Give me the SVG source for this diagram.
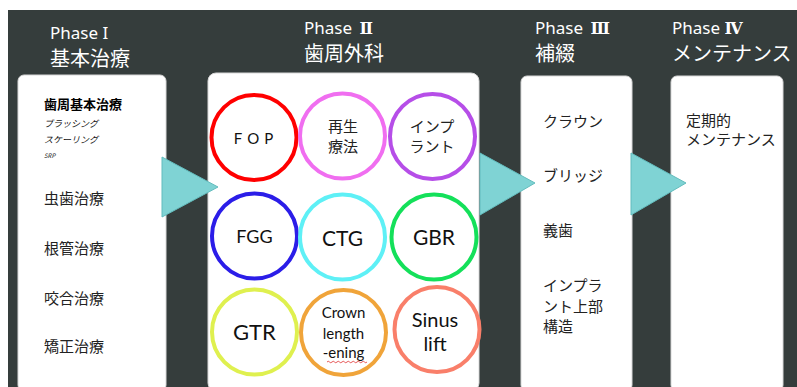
<svg xmlns="http://www.w3.org/2000/svg" width="797" height="387" viewBox="0 0 797 387">
<defs>
<style>
.hd{font-family:"Noto Sans","Noto Sans CJK JP",sans-serif;fill:#ffffff;}
.ph{font-size:17px;}
.rn{font-family:"DejaVu Serif",serif;font-weight:bold;font-size:16px;}
.jp{font-size:20px;}
.panel{fill:#ffffff;stroke:#d8d8d8;stroke-width:1;}
.tri{fill:#7fd3d4;stroke:#63bcbd;stroke-width:1;}
.ring{fill:none;stroke-width:4;}
.t{font-family:"Noto Sans CJK JP",sans-serif;fill:#222222;font-size:15px;}
.lat{font-family:Lato,"Noto Sans",sans-serif;fill:#111111;text-anchor:middle;}
.cj{font-family:"Noto Sans CJK JP",sans-serif;fill:#222222;text-anchor:middle;}
</style>
</defs>
<rect x="0" y="0" width="797" height="387" fill="#ffffff"/>
<rect x="8" y="10" width="789" height="377" fill="#353d3c"/>

<g id="headers">
<text class="hd ph" x="50" y="39">Phase I</text>
<text class="hd jp" x="50" y="66">基本治療</text>
<text class="hd ph" x="304" y="34">Phase <tspan class="rn" dx="3">Ⅱ</tspan></text>
<text class="hd jp" x="304" y="61">歯周外科</text>
<text class="hd ph" x="535" y="34">Phase <tspan class="rn" dx="3">Ⅲ</tspan></text>
<text class="hd jp" x="535" y="61">補綴</text>
<text class="hd ph" x="672" y="34">Phase <tspan class="rn">Ⅳ</tspan></text>
<text class="hd jp" x="672" y="61">メンテナンス</text>
</g>

<g id="phase1">
<rect class="panel" x="18" y="75" width="148" height="316" rx="6"/>
<text class="t" x="44" y="109" style="font-size:13px;font-weight:bold;fill:#000">歯周基本治療</text>
<text class="t" x="44" y="127" style="font-size:9px;font-style:italic;fill:#111">ブラッシング</text>
<text class="t" x="44" y="143" style="font-size:9px;font-style:italic;fill:#111">スケーリング</text>
<text class="t" x="44" y="158" style="font-size:6px;font-style:italic;fill:#111">SRP</text>
<text class="t" x="44" y="204">虫歯治療</text>
<text class="t" x="44" y="254">根管治療</text>
<text class="t" x="44" y="304">咬合治療</text>
<text class="t" x="44" y="352">矯正治療</text>
</g>

<g id="phase2">
<rect class="panel" x="208" y="73" width="271" height="318" rx="8"/>
</g>

<g id="fop">
<circle class="ring" cx="254" cy="137.5" r="42.5" stroke="#ff0000"/>
<text class="lat" x="256" y="144" style="font-size:15px;letter-spacing:5px;">FOP</text>
</g>
<g id="saisei">
<circle class="ring" cx="342.5" cy="136" r="42.5" stroke="#f06ef0"/>
<text class="cj" x="343" y="132" style="font-size:15px;">再生</text>
<text class="cj" x="343" y="152" style="font-size:15px;">療法</text>
</g>
<g id="implant">
<circle class="ring" cx="432.5" cy="136.5" r="42.5" stroke="#b64ee8"/>
<text class="cj" x="432" y="132" style="font-size:15px;">インプ</text>
<text class="cj" x="432" y="152" style="font-size:15px;">ラント</text>
</g>
<g id="fgg">
<circle class="ring" cx="254.5" cy="236" r="42.5" stroke="#2b1de8"/>
<text class="lat" x="254.5" y="243" style="font-size:18px;">FGG</text>
</g>
<g id="ctg">
<circle class="ring" cx="342.5" cy="237" r="42.5" stroke="#5ef0f6"/>
<text class="lat" x="342.5" y="246" style="font-size:21px;">CTG</text>
</g>
<g id="gbr">
<circle class="ring" cx="434" cy="237" r="42.5" stroke="#14e05a"/>
<text class="lat" x="434" y="245" style="font-size:21px;">GBR</text>
</g>
<g id="gtr">
<circle class="ring" cx="254.5" cy="332" r="42.5" stroke="#dff04f"/>
<text class="lat" x="254.5" y="340" style="font-size:22px;">GTR</text>
</g>
<g id="crown">
<circle class="ring" cx="343.5" cy="332.5" r="42.5" stroke="#f0a43a"/>
<text class="lat" x="343.5" y="318" style="font-size:15px;">Crown</text>
<text class="lat" x="343.5" y="339" style="font-size:15px;">length</text>
<text class="lat" x="343.5" y="358" style="font-size:15px;">-ening</text>
<path d="M327 362 q1.25 -1.5 2.5 0 t2.5 0 t2.5 0 t2.5 0 t2.5 0 t2.5 0 t2.5 0 t2.5 0 t2.5 0 t2.5 0 t2.5 0 t2.5 0 t2.5 0 t2.5 0 t2.5 0 t2.5 0" fill="none" stroke="#e03030" stroke-width="0.8"/>
</g>
<g id="sinus">
<circle class="ring" cx="437" cy="329.5" r="42.5" stroke="#f97f6a"/>
<text class="lat" x="435" y="327" style="font-size:20px;">Sinus</text>
<text class="lat" x="435" y="351" style="font-size:20px;">lift</text>
</g>

<g id="phase3">
<rect class="panel" x="521" y="76" width="111" height="315" rx="6"/>
<text class="t" x="543" y="127">クラウン</text>
<text class="t" x="543" y="181">ブリッジ</text>
<text class="t" x="543" y="236">義歯</text>
<text class="t" x="543" y="291">インプラ</text>
<text class="t" x="543" y="312">ント上部</text>
<text class="t" x="543" y="332">構造</text>
</g>

<g id="phase4">
<rect class="panel" x="671" y="76" width="112" height="315" rx="6"/>
<text class="t" x="686" y="126">定期的</text>
<text class="t" x="686" y="145">メンテナンス</text>
</g>

<g id="connectors">
<polygon class="tri" points="162,157 218,187 162,217"/>
<polygon class="tri" points="480,153 535,183 480,215"/>
<polygon class="tri" points="631,153 686,183 631,215"/>
</g>
</svg>
